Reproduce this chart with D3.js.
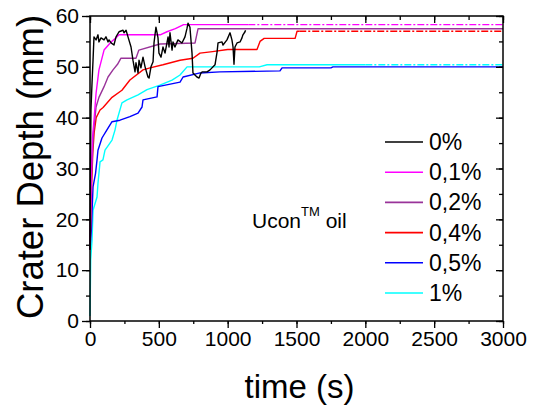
<!DOCTYPE html>
<html lang="en">
<head>
<meta charset="utf-8">
<title>Crater Depth vs time</title>
<script src="https://cdnjs.cloudflare.com/ajax/libs/d3/7.8.5/d3.min.js"></script>
<style>
  body { margin: 0; background: #fff; }
  text { font-family: "Liberation Sans", Arial, sans-serif; fill: #000; }
</style>
</head>
<body>
<svg id="chart" width="541" height="407"></svg>
<script>
// series labels and colours (legend order)
const labels = ["0%", "0,1%", "0,2%", "0,4%", "0,5%", "1%"];
const colors = ["#000000", "#ff00ff", "#993399", "#ff0000", "#0000ff", "#00ffff"];

// [time (s), depth (mm)]
const d0 = [[0,14],[3,30],[7,41.5],[15,47],[22,51.3],[29,55.9],[44,55.3],[58,56.3],[65,54.9],[80,55.7],[102,55.3],[116,55.9],[131,54.9],[138,55.3],[153,54.7],[174,54.3],[189,55.9],[211,56.9],[240,57.2],[247,56.7],[262,57.2],[276,55.9],[298,53.9],[312,51.3],[327,49],[334,50.8],[349,48.8],[356,51.3],[370,49.8],[385,51.9],[400,50],[421,48],[429,47.8],[443,50],[458,51],[465,54.7],[479,57.8],[494,55.7],[501,52.7],[516,51.9],[530,53.9],[545,52.7],[559,54.7],[567,55.9],[574,53.9],[581,56.7],[596,53.3],[603,54.9],[617,53.9],[639,55.3],[668,54.7],[690,55.9],[705,57.6],[712,58.6],[726,57.8],[741,52.7],[748,48.8],[777,48],[792,47.8],[806,48.8],[814,49],[850,49],[872,49.4],[908,50.4],[923,52.9],[930,54.7],[959,54.9],[966,54.3],[995,55.3],[1017,56.7],[1031,55.3],[1039,53.9],[1046,50.5],[1053,53.9],[1068,54.7],[1090,54.9],[1104,55.7],[1111,56.3],[1126,56.9],[1130,57.2]];
const d01 = [[0,14],[8,28],[18,36],[29,39.5],[44,44.8],[65,49.4],[102,53.3],[153,54.9],[189,55.7],[211,56.3],[510,56.3],[559,56.9],[620,57.5],[680,58.3],[1150,58.3]];
const d02 = [[0,14],[10,28],[25,37],[44,42.1],[65,44],[102,46.1],[131,48],[167,49.4],[200,50.5],[225,51.7],[334,51.7],[355,53.3],[508,54.5],[763,54.7],[785,57.5],[3000,57.5]];
const d04 = [[0,14],[10,25],[20,33],[30,37],[45,40],[73,41.5],[95,42],[160,44],[232,45.4],[290,47.4],[385,49.4],[436,49.8],[530,50.4],[654,51.3],[748,51.7],[799,52.7],[890,53],[1000,53.4],[1213,53.4],[1235,55],[1265,55.6],[1490,55.6],[1504,57],[1520,57]];
const d05 = [[0,14],[10,18],[22,26.4],[40,29],[51,31.7],[58,33.6],[87,36],[123,37.6],[160,39.2],[218,39.5],[290,40.2],[349,40.9],[378,42.1],[385,43.5],[487,44.1],[494,46.1],[654,47],[676,48],[799,48.8],[944,49],[1380,49.2],[1395,49.8],[1750,49.8],[1765,50],[3000,50]];
const d1 = [[0,1],[5,12],[15,16],[22,21.8],[51,24.4],[58,27.1],[73,31.3],[94,31.7],[109,33.6],[160,35.6],[182,37.6],[196,39.5],[232,42.9],[269,43.5],[349,44.5],[414,45.5],[508,46.4],[596,47.4],[654,48.4],[705,50],[1230,50],[1286,50.4],[2000,50.4]];

// dash-dot extensions to the end of the axis
const ext01 = [[1150,58.3],[3000,58.3]];
const ext04 = [[1520,57],[3000,57]];
const ext1 = [[2000,50.4],[3000,50.4]];

const xTicks = [0, 500, 1000, 1500, 2000, 2500, 3000];
const yTicks = [0, 10, 20, 30, 40, 50, 60];

const svg = d3.select("#chart");
const L = 90, R = 503, T = 16, B = 321;

const x = d3.scaleLinear().domain([0, 3000]).range([L, R]);
const y = d3.scaleLinear().domain([0, 60]).range([B, T]);

const line = d3.line().x(d => x(d[0])).y(d => y(d[1]));

const series = [d0, d01, d02, d04, d05, d1];
const exts = [null, ext01, null, ext04, null, ext1];

// draw last series first so black sits on top
for (let i = series.length - 1; i >= 0; i--) {
  svg.append("path")
    .attr("d", line(series[i]))
    .attr("fill", "none")
    .attr("stroke", colors[i])
    .attr("stroke-width", 1.4)
    .attr("stroke-linejoin", "round");
  if (exts[i]) {
    svg.append("path")
      .attr("d", line(exts[i]))
      .attr("fill", "none")
      .attr("stroke", colors[i])
      .attr("stroke-width", 1.4)
      .attr("stroke-dasharray", "7,2,2,2");
  }
}

// axes: outward ticks on left/bottom, inward on top/right
const minorX = d3.range(0, 3001, 250);
const minorY = d3.range(0, 61, 5);

svg.append("g").attr("transform", `translate(0,${B})`)
  .call(d3.axisBottom(x).tickValues(minorX).tickSize(3).tickFormat(""));
svg.append("g").attr("transform", `translate(0,${B})`)
  .call(d3.axisBottom(x).tickValues(xTicks).tickSize(7).tickPadding(3).tickFormat(d3.format("d")));
svg.append("g").attr("transform", `translate(${L},0)`)
  .call(d3.axisLeft(y).tickValues(minorY).tickSize(4).tickFormat(""));
svg.append("g").attr("transform", `translate(${L},0)`)
  .call(d3.axisLeft(y).tickValues(yTicks).tickSize(8).tickPadding(3));
svg.append("g").attr("transform", `translate(0,${T})`)
  .call(d3.axisBottom(x).tickValues(minorX).tickSize(4).tickFormat(""));
svg.append("g").attr("transform", `translate(0,${T})`)
  .call(d3.axisBottom(x).tickValues(xTicks).tickSize(7).tickFormat(""));
svg.append("g").attr("transform", `translate(${R},0)`)
  .call(d3.axisLeft(y).tickValues(minorY).tickSize(4).tickFormat(""));
svg.append("g").attr("transform", `translate(${R},0)`)
  .call(d3.axisLeft(y).tickValues(yTicks).tickSize(7).tickFormat(""));

svg.selectAll(".domain").remove();
svg.selectAll(".tick line").attr("stroke", "#000").attr("stroke-width", 1.3);
svg.selectAll(".tick text").style("font-size", "21px").style("font-family", "Liberation Sans, Arial, sans-serif");

svg.append("rect")
  .attr("x", L).attr("y", T).attr("width", R - L).attr("height", B - T)
  .attr("fill", "none").attr("stroke", "#000").attr("stroke-width", 1.5);

// axis titles
svg.append("text")
  .attr("x", (L + R) / 2 + 3).attr("y", 398)
  .attr("text-anchor", "middle")
  .style("font-size", "33px")
  .text("time (s)");

svg.append("text")
  .attr("transform", "translate(43,167) rotate(-90)")
  .attr("text-anchor", "middle")
  .style("font-size", "36.5px")
  .text("Crater Depth (mm)");

// legend
const leg = svg.append("g");
labels.forEach((lab, i) => {
  const ly = 142 + i * 30.2;
  leg.append("line")
    .attr("x1", 385).attr("x2", 423).attr("y1", ly).attr("y2", ly)
    .attr("stroke", colors[i]).attr("stroke-width", 1.6);
  leg.append("text")
    .attr("x", 429).attr("y", ly + 8)
    .style("font-size", "23px")
    .text(lab);
});

// annotation
const ann = svg.append("text").attr("x", 252).attr("y", 228).style("font-size", "21px");
ann.append("tspan").text("Ucon");
ann.append("tspan").attr("dy", -12).style("font-size", "13px").text("TM");
ann.append("tspan").attr("dy", 12).text(" oil");
</script>
</body>
</html>
